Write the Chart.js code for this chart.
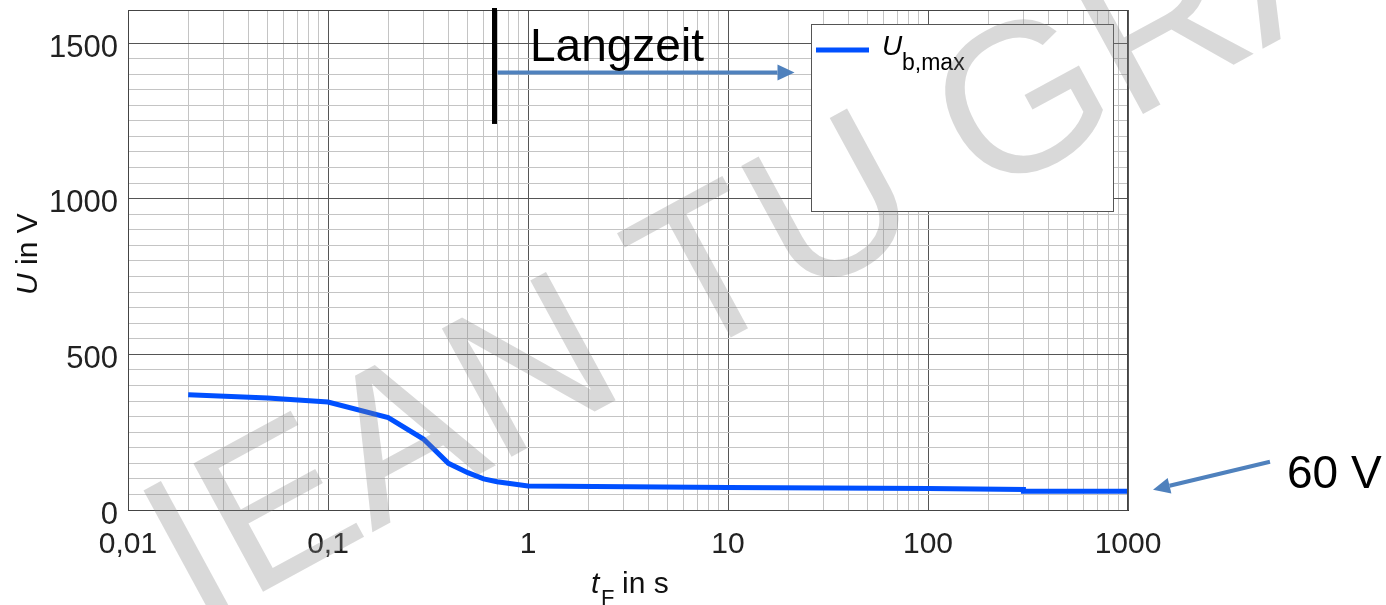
<!DOCTYPE html>
<html>
<head>
<meta charset="utf-8">
<script src="https://cdn.jsdelivr.net/npm/chart.js@4.4.1/dist/chart.umd.min.js"></script>
<style>
  html, body { margin: 0; padding: 0; background: #fff; }
  #wrap { position: relative; width: 1386px; height: 605px; }
</style>
</head>
<body>
<div id="wrap"><canvas id="chartUb"></canvas></div>
<script>
const tValues = [0.02, 0.05, 0.1, 0.2, 0.3, 0.4, 0.5, 0.6, 0.7, 1, 10, 100, 300, 300, 1000];
const uValues = [370, 360, 347, 297, 228, 150, 120, 100, 91, 77, 72, 69, 66, 60, 60];
const xDecades = [0.01, 0.1, 1, 10, 100, 1000];
const yMajorTicks = [0, 500, 1000, 1500];
const yMinorStep = 50;

const FONT = "'Liberation Sans', Arial, sans-serif";
const lineColor = '#0050ff';
const arrowColor = '#4f81bd';

function fmtComma(v) {
  const e = Math.round(Math.log10(v));
  const s = e < 0 ? v.toFixed(-e) : String(Math.round(v));
  return s.replace('.', ',');
}

function arrow(ctx, x1, y1, x2, y2) {
  const ang = Math.atan2(y2 - y1, x2 - x1);
  const head = 17, half = 8;
  const bx = x2 - head * Math.cos(ang), by = y2 - head * Math.sin(ang);
  ctx.strokeStyle = arrowColor;
  ctx.fillStyle = arrowColor;
  ctx.lineWidth = 4;
  ctx.beginPath();
  ctx.moveTo(x1, y1);
  ctx.lineTo(bx, by);
  ctx.stroke();
  ctx.beginPath();
  ctx.moveTo(x2, y2);
  ctx.lineTo(bx + half * Math.sin(ang), by - half * Math.cos(ang));
  ctx.lineTo(bx - half * Math.sin(ang), by + half * Math.cos(ang));
  ctx.closePath();
  ctx.fill();
}

const annotations = {
  id: 'annotations',
  afterDatasetsDraw(chart) {
    const { ctx, chartArea: a, scales: { x, y } } = chart;
    ctx.save();

    // plot frame
    ctx.strokeStyle = '#444';
    ctx.lineWidth = 1;
    ctx.strokeRect(Math.round(a.left) + 0.5, Math.round(a.top) + 0.5, Math.round(a.right - a.left) - 1, Math.round(a.bottom - a.top));

    // Langzeit marker
    const xm = x.getPixelForValue(0.68);
    ctx.strokeStyle = '#000';
    ctx.lineWidth = 5;
    ctx.beginPath();
    ctx.moveTo(xm, a.top - 2);
    ctx.lineTo(xm, y.getPixelForValue(1240));
    ctx.stroke();
    arrow(ctx, xm + 3, y.getPixelForValue(1405), x.getPixelForValue(21.5), y.getPixelForValue(1405));
    ctx.fillStyle = '#000';
    ctx.font = '46px ' + FONT;
    ctx.textBaseline = 'alphabetic';
    ctx.fillText('Langzeit', x.getPixelForValue(1) + 2, y.getPixelForValue(1442));

    // legend
    const lx = a.right - 317, ly = a.top + 14;
    ctx.fillStyle = '#fff';
    ctx.fillRect(lx, ly, 302, 187);
    ctx.strokeStyle = '#555';
    ctx.lineWidth = 1;
    ctx.strokeRect(lx + 0.5, ly + 0.5, 302, 187);
    ctx.strokeStyle = lineColor;
    ctx.lineWidth = 5;
    ctx.beginPath();
    ctx.moveTo(lx + 5, ly + 26);
    ctx.lineTo(lx + 58, ly + 26);
    ctx.stroke();
    ctx.fillStyle = '#000';
    ctx.font = 'italic 28px ' + FONT;
    ctx.fillText('U', lx + 71, ly + 31);
    ctx.font = '23px ' + FONT;
    ctx.fillText('b,max', lx + 91, ly + 46);

    // 60 V
    arrow(ctx, a.right + 142, y.getPixelForValue(155), a.right + 25, y.getPixelForValue(65));
    ctx.fillStyle = '#000';
    ctx.font = '46px ' + FONT;
    ctx.fillText('60 V', a.right + 159, y.getPixelForValue(70));

    // axis titles
    ctx.fillStyle = '#111';
    ctx.font = 'italic 30px ' + FONT;
    ctx.fillText('t', 591, 593);
    ctx.font = '22px ' + FONT;
    ctx.fillText('F', 601, 605);
    ctx.font = '30px ' + FONT;
    ctx.fillText('in s', 622, 593);

    ctx.translate(37, 295);
    ctx.rotate(-Math.PI / 2);
    ctx.font = 'italic 30px ' + FONT;
    ctx.fillText('U', 0, 0);
    ctx.font = '30px ' + FONT;
    ctx.fillText('in V', 30, 0);
    ctx.restore();
  },
  afterDraw(chart) {
    const ctx = chart.ctx;
    ctx.save();
    ctx.translate(196, 628);
    ctx.rotate(-28.5 * Math.PI / 180);
    ctx.font = '212px ' + FONT;
    ctx.fillStyle = 'rgba(128,128,128,0.3)';
    ctx.textBaseline = 'alphabetic';
    ctx.fillText('IEAN TU GRAZ', 0, 0);
    ctx.restore();
  }
};

const points = tValues.map((t, i) => ({ x: t, y: uValues[i] }));

new Chart(document.getElementById('chartUb'), {
  type: 'line',
  data: {
    datasets: [{
      label: 'Ub,max',
      data: points,
      borderColor: lineColor,
      borderWidth: 5,
      pointRadius: 0,
      tension: 0,
      fill: false
    }]
  },
  options: {
    responsive: true,
    maintainAspectRatio: false,
    animation: false,
    layout: { padding: { top: 10, right: 258, left: 0, bottom: 0 } },
    plugins: { legend: { display: false }, tooltip: { enabled: false } },
    scales: {
      x: {
        type: 'logarithmic',
        min: 0.01,
        max: 1000,
        afterBuildTicks: (scale) => {
          const ticks = [];
          xDecades.forEach((d, i) => {
            if (i === xDecades.length - 1) { ticks.push({ value: d }); return; }
            for (let m = 1; m <= 9; m++) ticks.push({ value: m * d });
          });
          scale.ticks = ticks;
        },
        afterFit: (scale) => { scale.height = 95; scale.paddingLeft = 0; scale.paddingRight = 0; },
        ticks: {
          autoSkip: false,
          maxRotation: 0,
          padding: 17,
          color: '#222',
          font: { family: FONT, size: 30 },
          callback: (v, i) => (i % 9 === 0 ? fmtComma(v) : '')
        },
        grid: {
          drawTicks: false,
          lineWidth: 1,
          color: (c) => (c.index % 9 === 0 ? '#555' : '#c4c4c4')
        },
        border: { color: '#333', width: 1 }
      },
      y: {
        type: 'linear',
        min: 0,
        max: 1606,
        afterBuildTicks: (scale) => {
          const ticks = [];
          for (let v = 0; v <= yMajorTicks[yMajorTicks.length - 1]; v += yMinorStep) ticks.push({ value: v });
          scale.ticks = ticks;
        },
        afterFit: (scale) => { scale.width = 128; scale.paddingTop = 0; scale.paddingBottom = 0; },
        ticks: {
          autoSkip: false,
          padding: 10,
          labelOffset: 5,
          color: '#222',
          font: { family: FONT, size: 31 },
          callback: (v) => (yMajorTicks.includes(v) ? String(v) : '')
        },
        grid: {
          drawTicks: false,
          lineWidth: 1,
          color: (c) => (yMajorTicks.includes(c.tick.value) ? '#555' : '#c4c4c4')
        },
        border: { color: '#333', width: 1 }
      }
    }
  },
  plugins: [annotations]
});
</script>
</body>
</html>
